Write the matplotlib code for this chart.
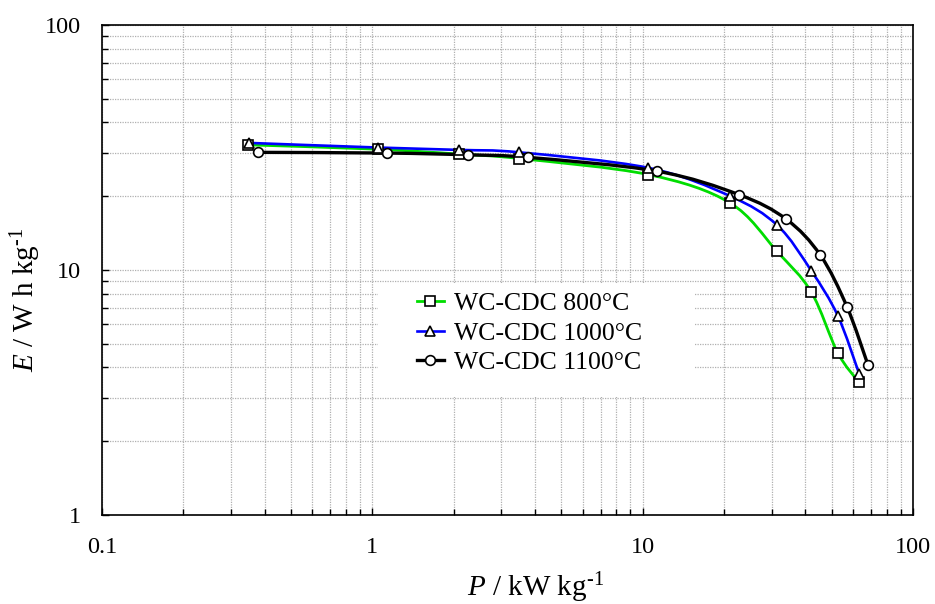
import numpy as np
import matplotlib
matplotlib.use('Agg')
import matplotlib.pyplot as plt
from matplotlib.path import Path
from matplotlib.patches import PathPatch, Rectangle
from matplotlib.ticker import FixedLocator, FixedFormatter, LogLocator, NullFormatter

plt.rcParams['font.family'] = ['Liberation Serif', 'DejaVu Serif']
plt.rcParams['mathtext.fontset'] = 'custom'
plt.rcParams['mathtext.rm'] = 'Liberation Serif'
plt.rcParams['mathtext.it'] = 'Liberation Serif:italic'

# Ragone data: power density (kW/kg) and energy density (Wh/kg)
p_800 = [0.348, 1.046, 2.10, 3.50, 10.5, 21.0, 31.4, 42.0, 52.6, 63.1]
e_800 = [32.4, 31.1, 29.7, 28.5, 24.5, 18.8, 11.9, 8.14, 4.6, 3.48]
p_1000 = [0.350, 1.046, 2.10, 3.50, 10.5, 21.1, 31.5, 42.1, 52.7, 63.2]
e_1000 = [33.0, 31.6, 30.9, 30.2, 26.1, 20.0, 15.2, 9.9, 6.5, 3.77]
p_1100 = [0.376, 1.13, 2.26, 3.78, 11.3, 22.7, 34.0, 45.4, 57.0, 68.1]
e_1100 = [30.2, 30.0, 29.5, 28.8, 25.3, 20.3, 16.1, 11.5, 7.07, 4.10]

series = [
    ('WC-CDC 800°C', p_800, e_800, '#00dd00', 's', 2.0),
    ('WC-CDC 1000°C', p_1000, e_1000, '#0000ff', '^', 1.9),
    ('WC-CDC 1100°C', p_1100, e_1100, 'black', 'o', 2.4),
]


def smooth_path(x, y):
    # Catmull-Rom style bezier in log-log space, drawn as cubic curves
    lx, ly = np.log10(x), np.log10(y)
    pts = np.column_stack([lx, ly])
    n = len(pts)
    verts = [pts[0]]
    codes = [Path.MOVETO]
    for i in range(n - 1):
        p0 = pts[max(i - 1, 0)]
        p1 = pts[i]
        p2 = pts[i + 1]
        p3 = pts[min(i + 2, n - 1)]
        c1 = p1 + (p2 - p0) / 6.0
        c2 = p2 - (p3 - p1) / 6.0
        verts += [c1, c2, p2]
        codes += [Path.CURVE4] * 3
    verts = 10 ** np.array(verts)
    return Path(verts, codes)


fig = plt.figure(figsize=(9.35, 6.04), dpi=100)
ax = fig.add_axes([0.1091, 0.1474, 0.8674, 0.8113])
ax.set_xscale('log')
ax.set_yscale('log')
ax.set_xlim(0.1, 100)
ax.set_ylim(1, 100)

mk_kw = dict(markersize=7, markerfacecolor='white', markeredgecolor='black',
             markeredgewidth=1.2)
handles = []
for label, px, ey, col, mk, lw in series:
    ax.add_patch(PathPatch(smooth_path(px, ey), facecolor='none', edgecolor=col,
                           lw=lw, zorder=3))
    ax.plot(px, ey, linestyle='none', marker=mk, zorder=5, **mk_kw)
    h, = ax.plot([], [], color=col, lw=lw, marker=mk, **mk_kw)
    handles.append((h, label))

ax.xaxis.set_major_locator(FixedLocator([0.1, 1, 10, 100]))
ax.xaxis.set_major_formatter(FixedFormatter(['0.1', '1', '10', '100']))
ax.yaxis.set_major_locator(FixedLocator([1, 10, 100]))
ax.yaxis.set_major_formatter(FixedFormatter(['1', '10', '100']))
for axis in (ax.xaxis, ax.yaxis):
    axis.set_minor_locator(LogLocator(base=10, subs=np.arange(2, 10)))
    axis.set_minor_formatter(NullFormatter())

ax.grid(True, which='both', color='#b0b0b0', linestyle=(0, (1, 1)), lw=0.9)
ax.set_axisbelow(True)
ax.tick_params(which='both', direction='in', labelsize=17.5, color='black', width=1)
ax.tick_params(which='major', length=5)
ax.tick_params(which='minor', length=4)
ax.tick_params(axis='x', which='major', pad=16)
ax.tick_params(axis='y', which='major', pad=15)
for s in ax.spines.values():
    s.set_color('black')
    s.set_linewidth(1.2)

ax.set_xlabel(r'$\it{P}$ / kW kg$^{\text{-1}}$', fontsize=21)
ax.set_ylabel(r'$\it{E}$ / W h kg$^{\text{-1}}$', fontsize=21)
ax.xaxis.set_label_coords(0.534, -0.114)
ax.yaxis.set_label_coords(-0.073, 0.44)

# white backing behind the legend entries
ax.add_patch(Rectangle((0.340, 0.241), 0.391, 0.232, transform=ax.transAxes,
                       facecolor='white', edgecolor='none', zorder=1.5))
leg = ax.legend([h for h, _ in handles], [l for _, l in handles], loc='center left',
                bbox_to_anchor=(0.388, 0.371), fontsize=18.5, frameon=False,
                handlelength=1.05, labelspacing=0.25, handletextpad=0.4,
                borderpad=0, borderaxespad=0)
leg.set_zorder(6)

fig.savefig('out.png', dpi=100)
